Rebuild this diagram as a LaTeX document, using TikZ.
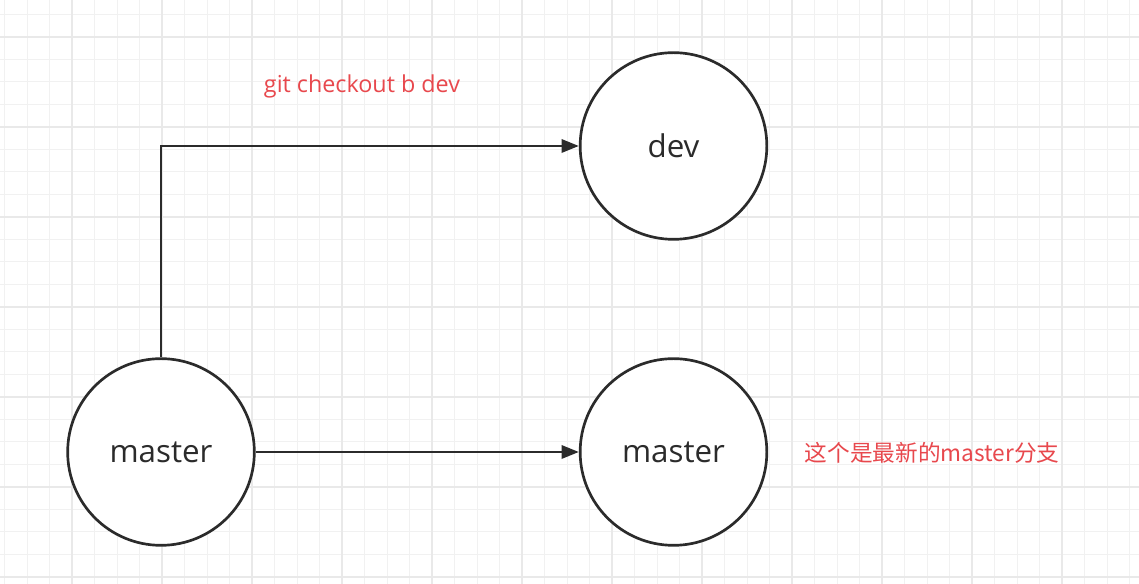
\documentclass[tikz,border=0pt]{standalone}
\usepackage{fontspec}
\setmainfont{Open Sans}
\newfontfamily\cjk{Noto Sans CJK SC}
\usepackage{tikz}
\usetikzlibrary{arrows.meta}
\definecolor{inkred}{HTML}{E8484D}
\definecolor{ink}{HTML}{2B2B2B}

\begin{document}
\begin{tikzpicture}[x=0.75pt,y=0.75pt,
    branch/.style={circle,draw=ink,line width=2pt,fill=white,minimum size=140pt,inner sep=0pt,text=ink,text depth=0pt,font=\fontsize{23.5}{27}\selectfont},
    link/.style={draw=ink,line width=1.8pt,-{Triangle[length=13pt,width=10pt]}},
    note/.style={text=inkred,font=\fontsize{17.5}{21}\selectfont}]
      \useasboundingbox (0,0) rectangle (1139,584);
      \fill[white] (0,0) rectangle (1139,584);
      \foreach \x in {4.5,27,...,1139} \draw[gray!11,line width=0.75pt] (\x,0) -- (\x,584);
      \foreach \y in {7,29.5,...,584} \draw[gray!11,line width=0.75pt] (0,\y) -- (1139,\y);
      \foreach \x in {72,162,...,1139} \draw[gray!17,line width=1.1pt] (\x,0) -- (\x,584);
      \foreach \y in {7,97,...,584} \draw[gray!17,line width=1.1pt] (0,\y) -- (1139,\y);
      \node[branch] (dev) at (673.5, 438) {dev};
      \node[branch] (mold) at (161, 132) {master};
      \node[branch] (mnew) at (673.5, 132) {master};
      \draw[link] (mold.north) |- (dev.west);
      \draw[link] (mold.east) -- (mnew.west);
      \node[note] (cmd) at (362, 498) {git checkout b dev};
      \node[note,anchor=west,font=\cjk\fontsize{17}{20}\selectfont] (tip) at (800, 131) {这个是最新的master分支};
    \end{tikzpicture}
\end{document}
